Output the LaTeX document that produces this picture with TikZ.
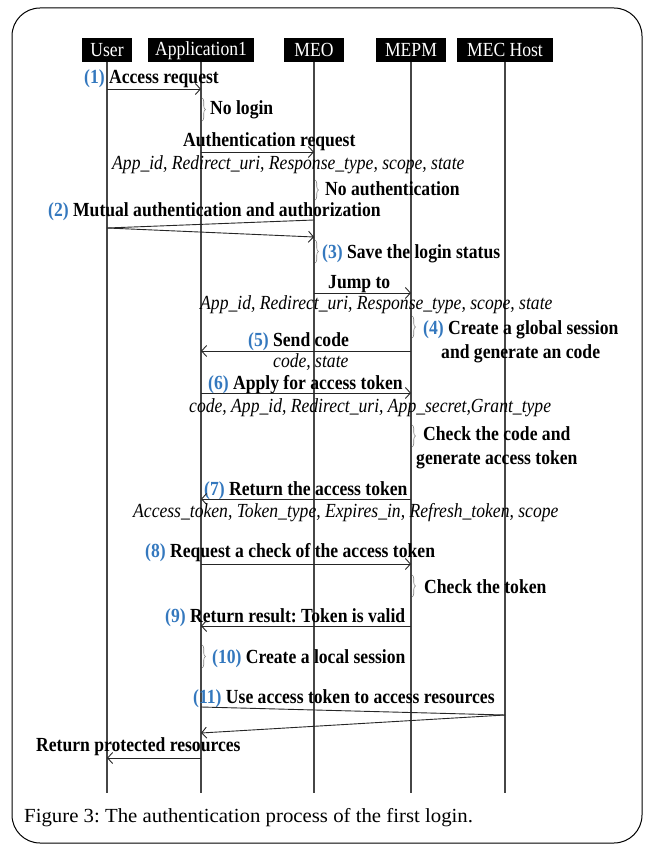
\documentclass[tikz,border=0pt]{standalone}
\usepackage{fontspec}
\setmainfont[FakeStretch=0.88]{Liberation Serif}
\newfontfamily\capfont[FakeStretch=1.04]{Liberation Serif}
\usetikzlibrary{arrows.meta,decorations.pathreplacing}
\definecolor{stepblue}{RGB}{52,120,190}
\definecolor{lifegray}{RGB}{70,70,70}
\newcommand{\stepno}[1]{{\color{stepblue}(#1)}}
\frenchspacing
\begin{document}
\begin{tikzpicture}[x=1pt,y=-1pt,
  head/.style={fill=black,text=white,font=\fontsize{20}{20}\selectfont,minimum height=24pt,inner xsep=3pt,inner ysep=0pt,anchor=north},
  lifeline/.style={draw=lifegray,line width=1.1pt},
  msg/.style={draw=black!85,line width=0.9pt,-{Straight Barb[length=5pt,width=11pt,line width=0.9pt]}},
  plainmsg/.style={draw=black!85,line width=0.9pt},
  lbl/.style={font=\fontsize{20}{20}\selectfont\bfseries,anchor=base west,inner sep=0pt},
  params/.style={font=\fontsize{20}{20}\selectfont\itshape,anchor=base west,inner sep=0pt},
  note/.style={draw=gray,line width=0.6pt,decorate,decoration={brace,amplitude=3.5pt}},
]
\useasboundingbox (0,0) rectangle (646,845);
% frame
\draw[line width=1pt,rounded corners=28pt] (12,8) rectangle (642,843);

% participants
\node[head,minimum width=50pt] (user) at (107,38) {User};
\node[head,minimum width=106pt] (app) at (201,38) {Application1};
\node[head,minimum width=60pt] (meo) at (314,38) {MEO};
\node[head,minimum width=70pt] (mepm) at (411,38) {MEPM};
\node[head,minimum width=96pt] (host) at (505,38) {MEC Host};

\foreach \p in {user,app,meo,mepm,host}{
  \coordinate (\p end) at (\p.south |- 0,793);
  \draw[lifeline] (\p.south) -- (\p end);
}

% (1)
\node[lbl] (l1) at (84,84) {\stepno{1} Access request};
\draw[msg] (user |- 0,89) -- (app |- 0,89);
\draw[note] ([xshift=1pt]app |- 0,98) -- ([xshift=1pt]app |- 0,121);
\node[lbl] (n1) at (210,115) {No login};

\node[lbl] (l1b) at (183,147) {Authentication request};
\draw[msg] (app |- 0,152) -- (meo |- 0,152);
\node[params] (p1) at (112,169) {App\_id, Redirect\_uri, Response\_type, scope, state};
\draw[note] ([xshift=1pt]meo |- 0,180) -- ([xshift=1pt]meo |- 0,200);
\node[lbl] (n2) at (325,196) {No authentication};

% (2)
\node[lbl] (l2) at (48,216) {\stepno{2} Mutual authentication and authorization};
\draw[plainmsg] (meo |- 0,220) -- (user |- 0,228);
\draw[msg] (user |- 0,228) -- (meo |- 0,237);

% (3)
\draw[note] ([xshift=1pt]meo |- 0,240) -- ([xshift=1pt]meo |- 0,263);
\node[lbl] (n3) at (322,258) {\stepno{3} Save the login status};

\node[lbl] (l3) at (328,288) {Jump to};
\draw[msg] (meo |- 0,293) -- (mepm |- 0,293);
\node[params] (p2) at (200,309) {App\_id, Redirect\_uri, Response\_type, scope, state};

% (4)
\draw[note] ([xshift=1pt]mepm |- 0,316) -- ([xshift=1pt]mepm |- 0,338);
\node[lbl] (n4a) at (423,334) {\stepno{4} Create a global session};
\node[lbl] (n4b) at (441,358) {and generate an code};

% (5)
\node[lbl] (l5) at (248,346) {\stepno{5} Send code};
\draw[msg] (mepm |- 0,351) -- (app |- 0,351);
\node[params] (p5) at (273,367) {code, state};

% (6)
\node[lbl] (l6) at (208,389) {\stepno{6} Apply for access token};
\draw[msg] (app |- 0,393) -- (mepm |- 0,393);
\node[params] (p6) at (189,412) {code, App\_id, Redirect\_uri, App\_secret,Grant\_type};

\draw[note] ([xshift=1pt]mepm |- 0,425) -- ([xshift=1pt]mepm |- 0,447);
\node[lbl] (n6a) at (423,440) {Check the code and};
\node[lbl] (n6b) at (416,464) {generate access token};

% (7)
\node[lbl] (l7) at (204,495) {\stepno{7} Return the access token};
\draw[msg] (mepm |- 0,499) -- (app |- 0,499);
\node[params] (p7) at (133,517) {Access\_token, Token\_type, Expires\_in, Refresh\_token, scope};

% (8)
\node[lbl] (l8) at (145,557) {\stepno{8} Request a check of the access token};
\draw[msg] (app |- 0,564) -- (mepm |- 0,564);
\draw[note] ([xshift=1pt]mepm |- 0,575) -- ([xshift=1pt]mepm |- 0,597);
\node[lbl] (n8) at (424,593) {Check the token};

% (9)
\node[lbl] (l9) at (165,622) {\stepno{9} Return result: Token is valid};
\draw[msg] (mepm |- 0,626) -- (app |- 0,626);

% (10)
\draw[note] ([xshift=1pt]app |- 0,645) -- ([xshift=1pt]app |- 0,668);
\node[lbl] (n10) at (212,663) {\stepno{10} Create a local session};

% (11)
\node[lbl] (l11) at (193,703) {\stepno{11} Use access token to access resources};
\draw[plainmsg] (app |- 0,707) -- (host |- 0,715);
\draw[msg] (host |- 0,715) -- (app |- 0,733);

\node[lbl] (l12) at (36,751) {Return protected resources};
\draw[msg] (app |- 0,758) -- (user |- 0,758);

% caption
\node[anchor=base west,inner sep=0pt,font=\capfont\fontsize{20}{20}\selectfont] (caption) at (24,822) {Figure 3: The authentication process of the first login.};
\end{tikzpicture}
\end{document}
